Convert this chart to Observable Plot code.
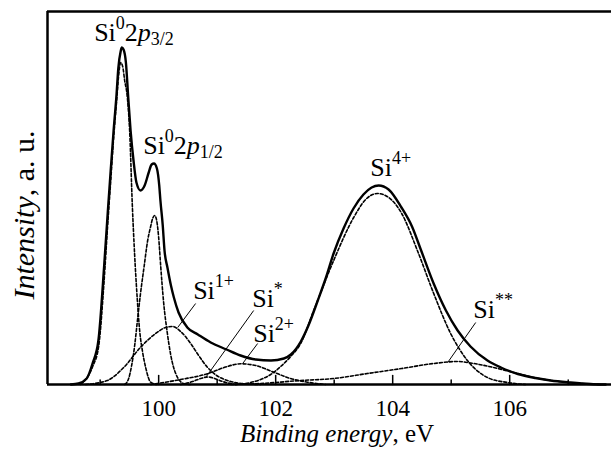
<!DOCTYPE html>
<html><head><meta charset="utf-8">
<style>
body{margin:0;background:#fff;font-family:"Liberation Serif"}
svg{display:block}
svg text, svg tspan{font-family:"Liberation Serif" !important}
.preload{position:absolute;left:0;top:0;visibility:hidden;font-size:20px;font-family:"Liberation Serif"}
</style>
<script src="https://cdn.jsdelivr.net/npm/d3@7"></script>
<script src="https://cdn.jsdelivr.net/npm/@observablehq/plot@0.6"></script>
</head><body><span class="preload">Si 100 <i>Binding energy</i></span><div id="chart"></div>
<script>
// ---- axes ----
const xDomain = [98.1, 107.74];
const yDomain = [0, 373];
const majorTicks = [100, 102, 104, 106];
const minorTicks = [99, 101, 103, 105, 107];
const xTitle = ["Binding energy", ", eV"];
const yTitle = ["Intensity", ", a. u."];

// ---- measured envelope (solid) ----
const envE = [98.50,98.63,98.77,98.87,98.97,99.07,99.13,99.18,99.23,99.28,99.31,99.35,99.37,99.40,99.44,99.48,99.52,99.57,99.62,99.69,99.76,99.83,99.88,99.92,99.97,100.01,100.03,100.07,100.10,100.15,100.21,100.26,100.34,100.49,100.67,100.89,101.16,101.40,101.66,101.92,102.14,102.26,102.43,102.56,102.72,102.86,102.99,103.16,103.33,103.50,103.64,103.76,103.93,104.15,104.33,104.48,104.70,104.91,105.11,105.33,105.62,105.85,106.14,106.44,106.70,107.04,107.38,107.64];
const envI = [0,1,6,21,44,120,172,214,254,290,316,333,337,335,322,287,254,224,202,194,199,212,220,221,216,199,184,159,134,117,99,87,72,57,50,42,35,29,25,24,26,30,43,59,84,107,131,156,176,190,197,199,195,177,158,135,101,74,54,38,24,17,10.5,6.5,4,2,0.5,0];

// ---- fitted components (dashed) ----
const p32E = [98.667,98.872,98.974,99.068,99.128,99.179,99.231,99.282,99.316,99.350,99.385,99.419,99.465,99.504,99.550,99.590,99.636,99.675,99.721,99.778,99.863,99.966];
const p32I = [0,18,38,104,159,202,247,284,309,322,318,304,287,254,179,129,84,54,34,17,2.3,0];
const p12E = [99.419,99.487,99.538,99.590,99.641,99.692,99.749,99.812,99.863,99.897,99.932,99.966,100.000,100.034,100.085,100.149,100.205,100.291,100.427,100.547];
const p12I = [0,6,19,39,66,92,117,144,158,166,169,164,147,119,82,51,30,11,1,0];
const si1E = [98.752,99.123,99.407,99.692,99.949,100.120,100.239,100.376,100.547,100.684,100.832,100.991,101.174,101.516,101.744];
const si1I = [0,4,17.3,37.3,51,57,58,53,41,29,17.3,9,4,0.5,0];
const siStarE = [100.376,100.581,100.718,100.838,100.957,101.094,101.316];
const siStarI = [0,3,6,7.5,6,3,0];
const si2E = [99.863,99.978,100.376,100.832,101.145,101.402,101.658,101.966,102.256,102.542,102.855];
const si2I = [0,1,5,10.7,17.5,20.7,19,12.3,6,2.3,0];
const si4E = [101.316,101.573,101.744,101.915,102.085,102.256,102.427,102.650,102.991,103.333,103.538,103.738,103.932,104.154,104.422,104.701,104.991,105.277,105.619,105.961,106.274];
const si4I = [0,2,5,10,18,28,41,74,124,167,185,191,187,171,134,91,51,24,7,2,0];
const si2starE = [101.231,101.744,102.427,102.991,103.568,104.154,104.701,105.106,105.385,105.726,106.068,106.410,106.991,107.556];
const si2starI = [0,1,4,6,11,16,21,23,21,17,12,7,2,0];

// ---- annotations ----
const labelParts = [
  [["Si",""],["0","sup"],["2",""],["p","it"],["3/2","sub"]],
  [["Si",""],["0","sup"],["2",""],["p","it"],["1/2","sub"]],
  [["Si",""],["1+","sup"]],
  [["Si",""],["*","sup"]],
  [["Si",""],["2+","sup"]],
  [["Si",""],["4+","sup"]],
  [["Si",""],["**","sup"]]
];
const labelE = [98.906, 99.744, 100.598, 101.607, 101.624, 103.624, 105.385];
const labelI = [343, 230, 85, 77, 42, 208, 66];
const leaderE1 = [100.632, 101.624, 101.692, 105.419];
const leaderI1 = [81, 74, 41, 62];
const leaderE2 = [100.325, 100.803, 101.436, 104.940];
const leaderI2 = [57, 7, 21, 22];

const rows = (E, I) => E.map((e, i) => ({E: e, I: I[i]}));
const components = [[p32E,p32I],[p12E,p12I],[si1E,si1I],[siStarE,siStarI],[si2E,si2I],[si4E,si4I],[si2starE,si2starI]];
const leaders = leaderE1.map((e, i) => ({x1: e, y1: leaderI1[i], x2: leaderE2[i], y2: leaderI2[i]}));
const tickShape = {draw(ctx, l) { ctx.moveTo(0, 0); ctx.lineTo(0, -l); }};
const FONT = "Liberation Serif";

const chart = Plot.plot({
  width: 611, height: 456,
  marginLeft: 47, marginRight: 0, marginTop: 11, marginBottom: 72,
  x: {domain: xDomain},
  y: {domain: yDomain, axis: null},
  style: {fontFamily: FONT, fontSize: "23px", background: "#fff", color: "#000"},
  marks: [
    ...components.map(([E, I]) => Plot.line(rows(E, I), {x: "E", y: "I", curve: "monotone-x", stroke: "#000", strokeWidth: 1.6, strokeDasharray: "3,2"})),
    Plot.line(rows(envE, envI), {x: "E", y: "I", curve: "monotone-x", stroke: "#000", strokeWidth: 2.4}),
    Plot.link(leaders, {x1: "x1", y1: "y1", x2: "x2", y2: "y2", stroke: "#000", strokeWidth: 1}),
    Plot.vector(majorTicks, {x: d => d, y: yDomain[0], length: 9, rotate: 0, anchor: "start", shape: tickShape, strokeWidth: 1.5, stroke: "#000"}),
    Plot.vector(minorTicks, {x: d => d, y: yDomain[0], length: 4.5, rotate: 0, anchor: "start", shape: tickShape, strokeWidth: 1.5, stroke: "#000"}),
    Plot.ruleX([xDomain[0]], {stroke: "#000", strokeWidth: 2.5}),
    Plot.ruleY([yDomain[0]], {stroke: "#000", strokeWidth: 2.5}),
    Plot.ruleY([yDomain[1]], {stroke: "#000", strokeWidth: 2.5}),
    Plot.axisX(majorTicks, {tickSize: 0, tickPadding: 15, fontSize: 23, fontFamily: FONT, label: null, tickFormat: d => String(d)})
  ]
});
document.getElementById("chart").append(chart);

const sx = chart.scale("x"), sy = chart.scale("y");
const svg = d3.select(chart);

// peak labels
labelParts.forEach((parts, i) => {
  const t = svg.append("text")
    .attr("x", sx.apply(labelE[i])).attr("y", sy.apply(labelI[i]))
    .attr("text-anchor", "start")
    .attr("font-family", FONT).attr("font-size", 26).attr("fill", "#000");
  let shift = 0;
  parts.forEach(([s, kind]) => {
    const target = kind === "sup" ? -12 : kind === "sub" ? 4 : 0;
    const ts = t.append("tspan").text(s).attr("dy", target - shift);
    if (kind === "sup" || kind === "sub") ts.attr("font-size", 18);
    if (kind === "it") ts.attr("font-style", "italic");
    shift = target;
  });
});

// axis titles
const xt = svg.append("text").attr("x", 337).attr("y", 442).attr("text-anchor", "middle")
  .attr("font-family", FONT).attr("font-size", 25).attr("fill", "#000");
xt.append("tspan").attr("font-style", "italic").text(xTitle[0]);
xt.append("tspan").text(xTitle[1]);
const yt = svg.append("text").attr("transform", "translate(34,215) rotate(-90)").attr("text-anchor", "middle")
  .attr("font-family", FONT).attr("font-size", 30).attr("fill", "#000");
yt.append("tspan").attr("font-style", "italic").text(yTitle[0]);
yt.append("tspan").text(yTitle[1]);
</script>
</body></html>
